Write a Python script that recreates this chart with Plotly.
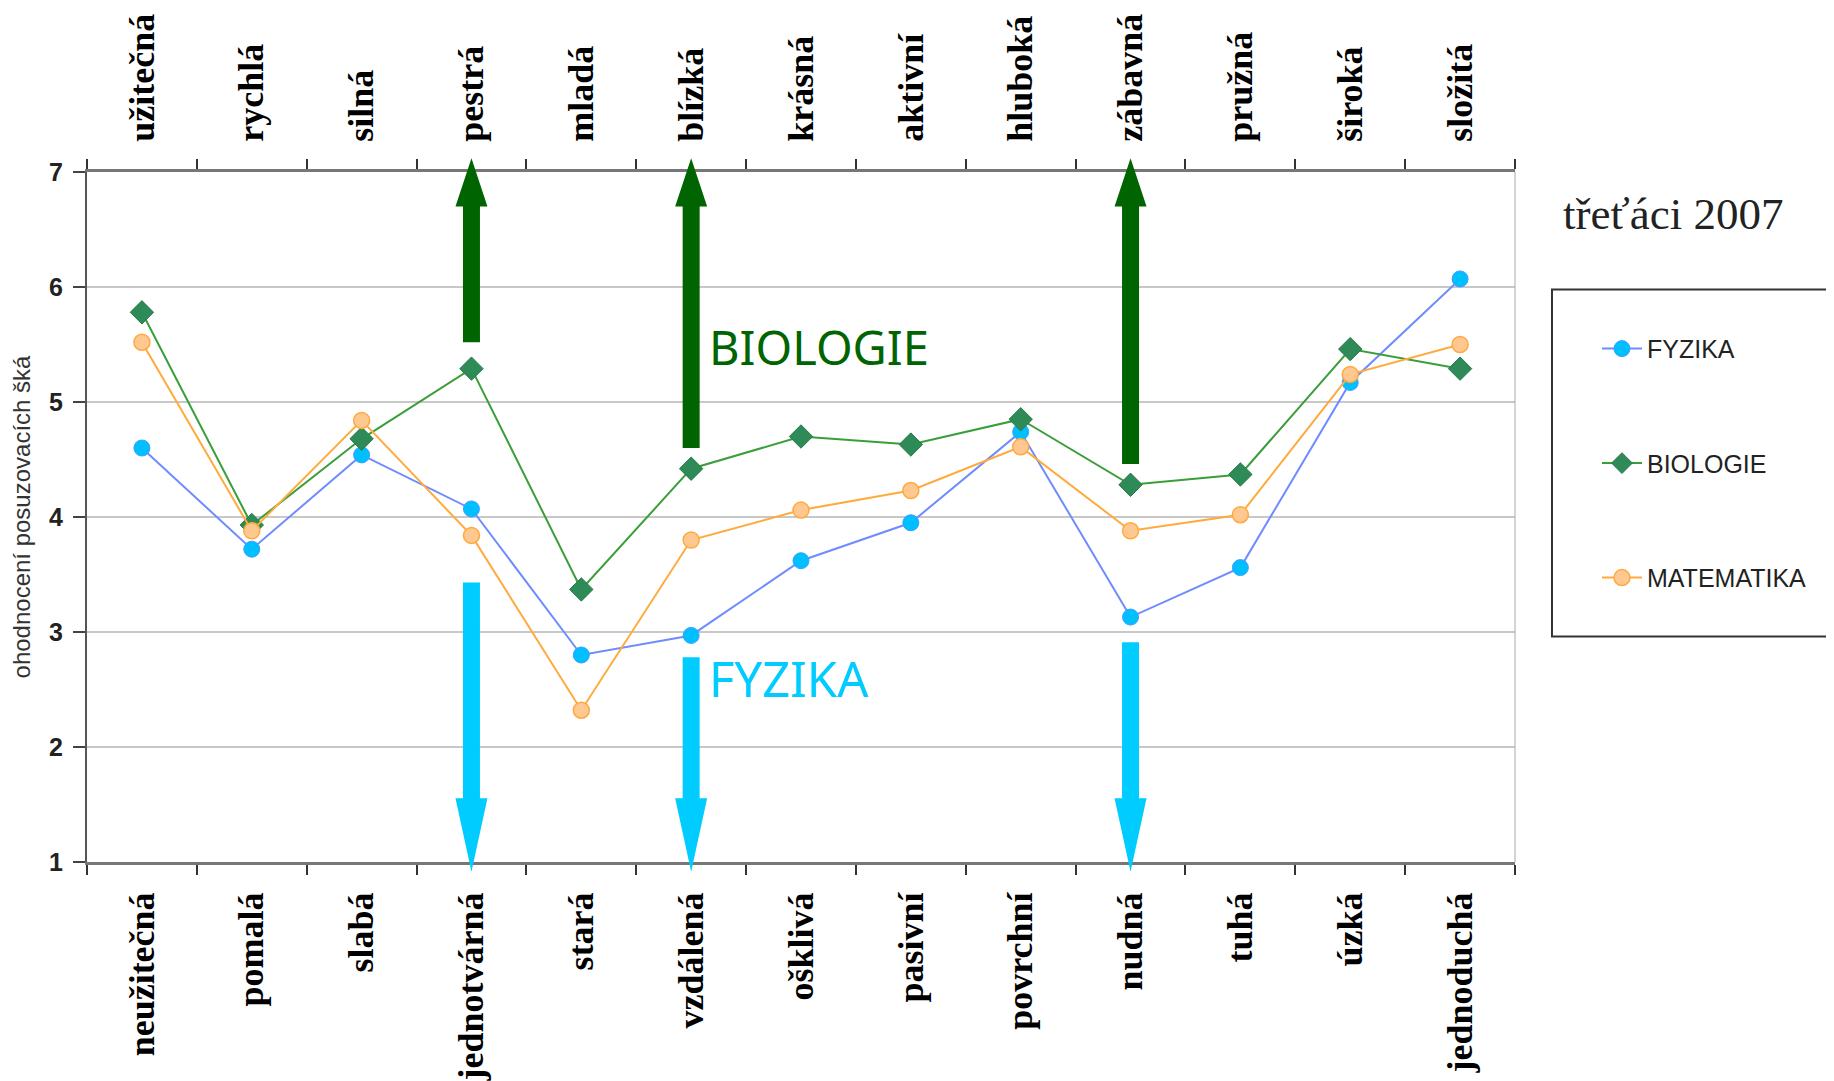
import plotly.graph_objects as go

neg_labels = ["neužitečná", "pomalá", "slabá", "jednotvárná", "stará", "vzdálená",
              "ošklivá", "pasivní", "povrchní", "nudná", "tuhá", "úzká", "jednoduchá"]
pos_labels = ["užitečná", "rychlá", "silná", "pestrá", "mladá", "blízká",
              "krásná", "aktivní", "hluboká", "zábavná", "pružná", "široká", "složitá"]

fyzika = [4.60, 3.72, 4.54, 4.07, 2.80, 2.97, 3.62, 3.95, 4.74, 3.13, 3.56, 5.17, 6.07]
biologie = [5.78, 3.93, 4.68, 5.29, 3.37, 4.42, 4.70, 4.63, 4.85, 4.28, 4.37, 5.46, 5.29]
matematika = [5.52, 3.88, 4.84, 3.84, 2.32, 3.80, 4.06, 4.23, 4.61, 3.88, 4.02, 5.24, 5.50]

# arrows: category, shaft start value, head base value, tip value
up_arrows_cat = ["jednotvárná", "vzdálená", "nudná"]
up_start = [5.52, 4.60, 4.46]
up_head = [6.70, 6.70, 6.70]
up_tip = [7.12, 7.12, 7.12]
down_arrows_cat = ["jednotvárná", "vzdálená", "nudná"]
down_start = [3.43, 2.78, 2.91]
down_head = [1.555, 1.555, 1.555]
down_tip = [0.915, 0.915, 0.915]

Y_MIN, Y_MAX = 1, 7

fig = go.Figure()
fig.add_trace(go.Scatter(
    x=neg_labels, y=fyzika, name="FYZIKA", mode="lines+markers", legendgroup="f",
    line=dict(color="#6f8cff", width=2),
    marker=dict(symbol="circle", size=16, color="#00bfff", line=dict(color="#3aa0ff", width=1))))
fig.add_trace(go.Scatter(
    x=neg_labels, y=biologie, name="BIOLOGIE", mode="lines+markers", legendgroup="b",
    line=dict(color="#3a9e3a", width=2),
    marker=dict(symbol="diamond", size=18, color="#2e8b57", line=dict(color="#2a7a4a", width=1))))
fig.add_trace(go.Scatter(
    x=neg_labels, y=matematika, name="MATEMATIKA", mode="lines+markers", legendgroup="m",
    line=dict(color="#ffaa3c", width=2),
    marker=dict(symbol="circle", size=16, color="#ffc890", line=dict(color="#ffa940", width=1.5))))
# invisible trace to carry the top axis
fig.add_trace(go.Scatter(
    x=pos_labels, y=fyzika, xaxis="x2", mode="lines", showlegend=False, hoverinfo="skip",
    line=dict(color="rgba(0,0,0,0)")))

def yp(v):
    return (v - Y_MIN) / (Y_MAX - Y_MIN)

shapes = []
sw, hw = 8.5, 16
for cat, s, h, t in zip(up_arrows_cat, up_start, up_head, up_tip):
    path = (f"M {-sw},{yp(s)} L {sw},{yp(s)} L {sw},{yp(h)} L {hw},{yp(h)} L 0,{yp(t)} "
            f"L {-hw},{yp(h)} L {-sw},{yp(h)} Z")
    shapes.append(dict(type="path", xref="x", yref="paper", xsizemode="pixel", xanchor=cat,
                       path=path, fillcolor="#006400", line=dict(width=0), layer="above"))
for cat, s, h, t in zip(down_arrows_cat, down_start, down_head, down_tip):
    path = (f"M {-sw},{yp(s)} L {sw},{yp(s)} L {sw},{yp(h)} L {hw},{yp(h)} L 0,{yp(t)} "
            f"L {-hw},{yp(h)} L {-sw},{yp(h)} Z")
    shapes.append(dict(type="path", xref="x", yref="paper", xsizemode="pixel", xanchor=cat,
                       path=path, fillcolor="#00ccff", line=dict(width=0), layer="above"))
# right thin border of the plot
shapes.append(dict(type="line", xref="paper", yref="paper", x0=1, x1=1, y0=0, y1=1,
                   line=dict(color="#aaaaaa", width=1)))
# legend box
shapes.append(dict(type="rect", xref="paper", yref="paper", x0=1.0259, x1=1.25, y0=0.3268, y1=0.8297,
                   line=dict(color="#333333", width=2), fillcolor="rgba(0,0,0,0)"))

tick_font = dict(family="Liberation Serif", size=36, color="black", weight="bold")

fig.update_layout(
    width=1834, height=1081,
    margin=dict(l=79, r=327, t=164, b=227, autoexpand=False),
    paper_bgcolor="white", plot_bgcolor="white",
    showlegend=True,
    legend=dict(x=1.0574, y=0.777, xanchor="left", yanchor="top",
                font=dict(family="Liberation Sans", size=25, color="#222222"),
                tracegroupgap=79, bgcolor="rgba(0,0,0,0)", borderwidth=0,
                itemwidth=40),
    xaxis=dict(type="category", categoryorder="array", categoryarray=neg_labels,
               range=[-0.5, 12.5], tickson="boundaries", ticks="outside", ticklen=10,
               tickwidth=2, tickcolor="#333333", showline=True, linecolor="#777777",
               linewidth=3, showgrid=False, tickangle=-90, ticklabelstandoff=13,
               automargin=False, tickfont=tick_font),
    xaxis2=dict(type="category", categoryorder="array", categoryarray=pos_labels,
                overlaying="x", side="top", anchor="y",
                range=[-0.5, 12.5], tickson="boundaries", ticks="outside", ticklen=10,
                tickwidth=2, tickcolor="#333333", showline=True, linecolor="#777777",
                linewidth=3, showgrid=False, tickangle=-90, ticklabelstandoff=20,
                automargin=False, tickfont=tick_font),
    yaxis=dict(range=[Y_MIN, Y_MAX], dtick=1, ticks="outside", ticklen=12, tickwidth=2,
               tickcolor="#444444", showline=True, linecolor="#555555", linewidth=2,
               showgrid=True, gridcolor="#c8c8c8", gridwidth=1.5, zeroline=False,
               ticklabelstandoff=5, automargin=False,
               tickfont=dict(family="Liberation Sans", size=25, color="#222222", weight="bold"),
               title=dict(text="ohodnocení posuzovacích šká", standoff=12,
                          font=dict(family="Liberation Sans", size=24, color="#333333"))),
    shapes=shapes,
    annotations=[
        dict(text="třeťáci 2007", xref="paper", yref="paper", x=1.1106, y=0.939,
             xanchor="center", yanchor="middle",
             showarrow=False, font=dict(family="Liberation Serif", size=45, color="#222222")),
        dict(text="BIOLOGIE", xref="paper", yref="paper", x=0.4345, y=0.746,
             xanchor="left", yanchor="middle",
             showarrow=False, font=dict(family="Noto Sans", size=47, color="#006400")),
        dict(text="FYZIKA", xref="paper", yref="paper", x=0.4345, y=0.267,
             xanchor="left", yanchor="middle",
             showarrow=False, font=dict(family="Noto Sans", size=49, color="#00ccff")),
    ],
)

fig.write_html("out.html")
